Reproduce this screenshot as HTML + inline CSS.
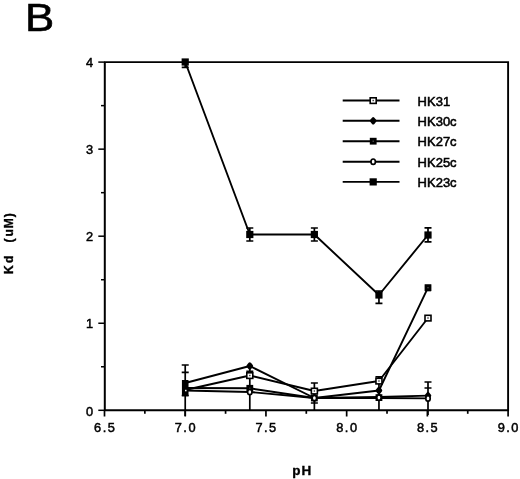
<!DOCTYPE html>
<html><head><meta charset="utf-8"><title>B</title>
<style>html,body{margin:0;padding:0;background:#fff}body{width:520px;height:479px;overflow:hidden;position:relative}svg{display:block}text{font-family:"Liberation Sans",Arial,Helvetica,sans-serif;fill:#000;stroke:#000}</style>
</head><body>
<svg width="520" height="479" viewBox="0 0 520 479">
<rect width="520" height="479" fill="#fff"/>
<g fill="none" stroke="#000" stroke-width="1.9">
<path d="M104.0 62.1H509.05M508.1 62.1V410.3M509.05 410.3H104.0"/>
<path d="M104.8 62.1V410.3" stroke-width="2.0"/>
<path d="M98.3 410.3H104.5" stroke-width="1.5"/>
<path d="M101.0 366.77500000000003H104.5" stroke-width="1.5"/>
<path d="M98.3 323.25H104.5" stroke-width="1.5"/>
<path d="M101.0 279.725H104.5" stroke-width="1.5"/>
<path d="M98.3 236.20000000000002H104.5" stroke-width="1.5"/>
<path d="M101.0 192.675H104.5" stroke-width="1.5"/>
<path d="M98.3 149.15000000000003H104.5" stroke-width="1.5"/>
<path d="M101.0 105.625H104.5" stroke-width="1.5"/>
<path d="M98.3 62.10000000000002H104.5" stroke-width="1.5"/>
<path d="M104.50 410.3V416.5" stroke-width="1.7"/>
<path d="M144.86 410.3V413.8" stroke-width="1.7"/>
<path d="M185.22 410.3V416.5" stroke-width="1.7"/>
<path d="M225.58 410.3V413.8" stroke-width="1.7"/>
<path d="M265.94 410.3V416.5" stroke-width="1.7"/>
<path d="M306.30 410.3V413.8" stroke-width="1.7"/>
<path d="M346.66 410.3V416.5" stroke-width="1.7"/>
<path d="M387.02 410.3V413.8" stroke-width="1.7"/>
<path d="M427.38 410.3V416.5" stroke-width="1.7"/>
<path d="M467.74 410.3V413.8" stroke-width="1.7"/>
<path d="M508.10 410.3V416.5" stroke-width="1.7"/>
</g>
<g fill="none" stroke="#000" stroke-width="1.7">
<path d="M185.22 62V67.3M181.72 67.3H188.72M249.80 228V241M246.30 228H253.30M246.30 241H253.30M314.37 228V241M310.87 228H317.87M310.87 241H317.87M378.95 291V303.3M375.45 291H382.45M375.45 303.3H382.45M428.00 227.8V241.8M424.50 227.8H431.50M424.50 241.8H431.50M185.22 365V416M181.72 365H188.72M185.22 372.4V395.5M181.72 372.4H188.72M181.72 395.5H188.72M249.80 371.4V380M246.30 371.4H253.30M249.80 365V410M314.37 383V410M310.87 383H317.87M314.37 390V403M310.87 403H317.87M378.95 376.8V410M375.45 376.8H382.45M428.00 382V415M424.50 382H431.50M428.00 388V400M424.50 388H431.50M428.00 285.5V290.5M425.00 285.5H431.00M425.00 290.5H431.00"/>
</g>
<g fill="none" stroke="#000" stroke-width="1.9" stroke-linejoin="round">
<polyline points="185.22,390 249.80,375.5 314.37,391 378.95,381 428.00,318"/>
<polyline points="185.22,383 249.80,366 314.37,398 378.95,397.0 428.00,395.6"/>
<polyline points="185.22,388 249.80,388.3 314.37,398 378.95,390.5 428.00,287.7"/>
<polyline points="185.22,390.5 249.80,392 314.37,398 378.95,398.0 428.00,398.4"/>
<polyline points="185.22,62 249.80,234.5 314.37,234.5 378.95,295 428.00,235"/>
</g>
<g>
<rect x="181.92" y="380" width="6.6" height="16.3" fill="#000"/>
<rect x="185.02" y="389.8" width="1.5" height="1.5" fill="#fff"/>
<rect x="181.62" y="58.4" width="7.2" height="7.2" fill="#000"/>
<rect x="246.20" y="230.9" width="7.2" height="7.2" fill="#000"/>
<rect x="310.77" y="230.9" width="7.2" height="7.2" fill="#000"/>
<rect x="375.35" y="291.4" width="7.2" height="7.2" fill="#000"/>
<rect x="424.40" y="231.4" width="7.2" height="7.2" fill="#000"/>
<rect x="246.80" y="372.8" width="6" height="5.6" fill="#fff" stroke="#000" stroke-width="1.6"/><rect x="249.10" y="374.8" width="1.4" height="1.4" fill="#333"/>
<rect x="311.37" y="388.3" width="6" height="5.6" fill="#fff" stroke="#000" stroke-width="1.6"/><rect x="313.67" y="390.3" width="1.4" height="1.4" fill="#333"/>
<rect x="375.95" y="378.3" width="6" height="5.6" fill="#fff" stroke="#000" stroke-width="1.6"/><rect x="378.25" y="380.3" width="1.4" height="1.4" fill="#333"/>
<rect x="425.00" y="315.3" width="6" height="5.6" fill="#fff" stroke="#000" stroke-width="1.6"/><rect x="427.30" y="317.3" width="1.4" height="1.4" fill="#333"/>
<path d="M249.80 363.8L251.60 366L249.80 368.2L248.00 366Z" fill="#000" stroke="#000" stroke-width="3" stroke-linejoin="round"/>
<path d="M314.37 395.8L316.17 398L314.37 400.2L312.57 398Z" fill="#000" stroke="#000" stroke-width="3" stroke-linejoin="round"/>
<path d="M378.95 388.3L380.75 390.5L378.95 392.7L377.15 390.5Z" fill="#000" stroke="#000" stroke-width="3" stroke-linejoin="round"/>
<path d="M428.00 393.40000000000003L429.80 395.6L428.00 397.8L426.20 395.6Z" fill="#000" stroke="#000" stroke-width="3" stroke-linejoin="round"/>
<rect x="246.40" y="384.90000000000003" width="6.8" height="6.8" fill="#000"/><rect x="249.20" y="387.7" width="1.2" height="1.2" fill="#666"/>
<rect x="310.97" y="394.6" width="6.8" height="6.8" fill="#000"/><rect x="313.77" y="397.4" width="1.2" height="1.2" fill="#666"/>
<rect x="375.55" y="394.20000000000005" width="6.8" height="6.8" fill="#000"/><rect x="378.35" y="397.0" width="1.2" height="1.2" fill="#666"/>
<rect x="424.60" y="284.3" width="6.8" height="6.8" fill="#000"/><rect x="427.40" y="287.09999999999997" width="1.2" height="1.2" fill="#666"/>
<ellipse cx="249.80" cy="392" rx="2.2" ry="2.7" fill="#fff" stroke="#000" stroke-width="1.7"/>
<ellipse cx="314.37" cy="398" rx="2.2" ry="2.7" fill="#fff" stroke="#000" stroke-width="1.7"/>
<ellipse cx="378.95" cy="397.6" rx="2.2" ry="2.7" fill="#fff" stroke="#000" stroke-width="1.7"/>
<ellipse cx="428.00" cy="398.4" rx="2.2" ry="2.7" fill="#fff" stroke="#000" stroke-width="1.7"/>
</g>
<g fill="none" stroke="#000" stroke-width="1.9">
<path d="M342.7 100.5H399.5"/>
<path d="M342.7 120.8H399.5"/>
<path d="M342.7 141.2H399.5"/>
<path d="M342.7 161.7H399.5"/>
<path d="M342.7 181.9H399.5"/>
</g>
<rect x="370.20" y="97.8" width="6" height="5.6" fill="#fff" stroke="#000" stroke-width="1.6"/><rect x="372.50" y="99.8" width="1.4" height="1.4" fill="#333"/>
<text x="417.6" y="105.9" font-size="13" stroke-width="0.55">HK31</text>
<path d="M373.20 118.6L375.00 120.8L373.20 123.0L371.40 120.8Z" fill="#000" stroke="#000" stroke-width="3" stroke-linejoin="round"/>
<text x="417.6" y="126.0" font-size="13" stroke-width="0.55">HK30c</text>
<rect x="369.80" y="137.79999999999998" width="6.8" height="6.8" fill="#000"/><rect x="372.60" y="140.6" width="1.2" height="1.2" fill="#666"/>
<text x="417.6" y="146.1" font-size="13" stroke-width="0.55">HK27c</text>
<ellipse cx="373.20" cy="161.7" rx="2.2" ry="2.7" fill="#fff" stroke="#000" stroke-width="1.7"/>
<text x="417.6" y="166.9" font-size="13" stroke-width="0.55">HK25c</text>
<rect x="369.60" y="178.3" width="7.2" height="7.2" fill="#000"/>
<text x="417.6" y="187.1" font-size="13" stroke-width="0.55">HK23c</text>
<g font-size="12.8" letter-spacing="1.5" stroke-width="0.48">
<text x="105.2" y="431.9" text-anchor="middle">6.5</text>
<text x="185.9" y="431.9" text-anchor="middle">7.0</text>
<text x="266.6" y="431.9" text-anchor="middle">7.5</text>
<text x="347.4" y="431.9" text-anchor="middle">8.0</text>
<text x="428.1" y="431.9" text-anchor="middle">8.5</text>
<text x="508.8" y="431.9" text-anchor="middle">9.0</text>
</g>
<g font-size="12.8" text-anchor="end" stroke-width="0.48">
<text x="93.2" y="415.6">0</text>
<text x="93.2" y="327.8">1</text>
<text x="93.2" y="240.7">2</text>
<text x="93.2" y="153.7">3</text>
<text x="93.2" y="66.6">4</text>
</g>
<text x="25.0" y="31.1" font-size="39.2" textLength="29.2" lengthAdjust="spacingAndGlyphs" stroke-width="0.6">B</text>
<text x="292.3" y="474.8" font-size="13.5" font-weight="bold" letter-spacing="1" stroke-width="0.35">pH</text>
<text transform="translate(12.6 273.3) rotate(-90)" font-size="12" font-weight="bold" stroke-width="0.35" x="-0.6 10.3 18 30.9 36.7 45 56">Kd (uM)</text>
</svg>
</body></html>
